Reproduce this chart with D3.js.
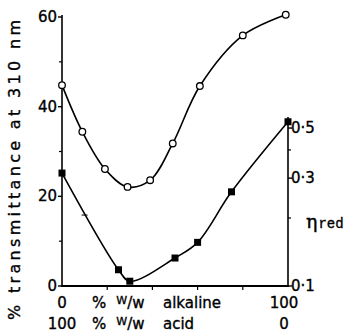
<!DOCTYPE html>
<html>
<head>
<meta charset="utf-8">
<script src="https://cdn.jsdelivr.net/npm/d3@7"></script>
<style>
  body { margin: 0; background: #fff; }
  svg text { font-family: "DejaVu Sans", sans-serif; fill: #000; stroke: #000; stroke-width: 0.35; }
</style>
</head>
<body>
<div id="chart"></div>
<script>
// % transmittance (open circles, left axis)
const transX = [0, 9, 19, 29, 39, 49, 61, 80, 99];
const transY = [44.8, 34.4, 26.1, 22.1, 23.6, 31.8, 44.6, 55.9, 60.5];
// reduced viscosity (filled squares, right log axis)
const viscX = [0, 25, 30, 50, 60, 75, 100];
const viscY = [0.316, 0.118, 0.105, 0.133, 0.156, 0.261, 0.533];
// small cross mark on the viscosity line
const crossX = [10];
const crossY = [0.206];

const leftMajor = [0, 20, 40, 60];
const leftMinor = [10, 30, 50];
const rightMajor = [0.1, 0.3, 0.5];
const rightMinor = [0.2, 0.4];
const bottomTicks = [20, 40, 60, 80];

const W = 353, H = 335;
const svg = d3.select('#chart').append('svg')
  .attr('width', W).attr('height', H);

const x = d3.scaleLinear().domain([0, 100]).range([62, 288]);
const yL = d3.scaleLinear().domain([0, 60]).range([286, 17]);
const yR = d3.scaleLog().domain([0.1, 1]).range([286, 60]);

// axes lines
svg.append('line').attr('x1', x(0)).attr('x2', x(0))
  .attr('y1', 286).attr('y2', 15).attr('stroke', '#000').attr('stroke-width', 1.6);
svg.append('line').attr('x1', x(0) - 1).attr('x2', x(100) + 1)
  .attr('y1', 286).attr('y2', 286).attr('stroke', '#000').attr('stroke-width', 2);
svg.append('line').attr('x1', x(100)).attr('x2', x(100))
  .attr('y1', 287).attr('y2', yR(0.56)).attr('stroke', '#000').attr('stroke-width', 1.6);

// left ticks
svg.selectAll('.lmaj').data(leftMajor).enter().append('line')
  .attr('x1', x(0) - 4).attr('x2', x(0)).attr('y1', d => yL(d)).attr('y2', d => yL(d))
  .attr('stroke', '#000').attr('stroke-width', 1.4);
svg.selectAll('.lmin').data(leftMinor).enter().append('line')
  .attr('x1', x(0) - 3).attr('x2', x(0)).attr('y1', d => yL(d)).attr('y2', d => yL(d))
  .attr('stroke', '#000').attr('stroke-width', 1.2);
svg.selectAll('.llab').data(leftMajor).enter().append('text')
  .attr('x', x(0) - 5).attr('y', d => yL(d) + 5)
  .attr('text-anchor', 'end').attr('font-size', 15)
  .text(d => d);

// right ticks
svg.selectAll('.rmaj').data(rightMajor).enter().append('line')
  .attr('x1', x(100)).attr('x2', x(100) + 4).attr('y1', d => yR(d)).attr('y2', d => yR(d))
  .attr('stroke', '#000').attr('stroke-width', 1.4);
svg.selectAll('.rmin').data(rightMinor).enter().append('line')
  .attr('x1', x(100)).attr('x2', x(100) + 3).attr('y1', d => yR(d)).attr('y2', d => yR(d))
  .attr('stroke', '#000').attr('stroke-width', 1.2);
svg.selectAll('.rlab').data(rightMajor).enter().append('text')
  .attr('x', x(100) + 3).attr('y', d => yR(d) + 5)
  .attr('font-size', 15)
  .text(d => String(d).replace('.', '·'));

// bottom ticks
svg.selectAll('.btick').data(bottomTicks).enter().append('line')
  .attr('x1', d => x(d)).attr('x2', d => x(d)).attr('y1', 286).attr('y2', 290)
  .attr('stroke', '#000').attr('stroke-width', 1.2);

// curves
const lineT = d3.line().x(d => x(d[0])).y(d => yL(d[1])).curve(d3.curveCatmullRom);
const lineV = d3.line().x(d => x(d[0])).y(d => yR(d[1])).curve(d3.curveCatmullRom);
const tPts = transX.map((v, i) => [v, transY[i]]);
const vPts = viscX.map((v, i) => [v, viscY[i]]);

svg.append('path').attr('d', lineT(tPts)).attr('fill', 'none')
  .attr('stroke', '#000').attr('stroke-width', 1.6);
svg.append('path').attr('d', lineV(vPts)).attr('fill', 'none')
  .attr('stroke', '#000').attr('stroke-width', 1.6);

svg.selectAll('.circ').data(tPts).enter().append('circle')
  .attr('cx', d => x(d[0])).attr('cy', d => yL(d[1])).attr('r', 3.3)
  .attr('fill', '#fff').attr('stroke', '#000').attr('stroke-width', 1.3);
svg.selectAll('.sq').data(vPts).enter().append('rect')
  .attr('x', d => x(d[0]) - 3.5).attr('y', d => yR(d[1]) - 3.5)
  .attr('width', 7).attr('height', 7).attr('fill', '#000');
crossX.forEach((cx, i) => {
  const px = x(cx), py = yR(crossY[i]);
  svg.append('line').attr('x1', px - 3).attr('x2', px + 3).attr('y1', py).attr('y2', py)
    .attr('stroke', '#000').attr('stroke-width', 1);
});

// y label
svg.append('text')
  .attr('transform', 'translate(20,170) rotate(-90)')
  .attr('text-anchor', 'middle').attr('font-size', 16)
  .attr('textLength', 300).attr('lengthAdjust', 'spacing')
  .text('% transmittance at 310 nm');

// right label
const eta = svg.append('text').attr('x', 306).attr('y', 228);
eta.append('tspan').attr('font-size', 19).attr('font-family', 'DejaVu Serif').text('η');
eta.append('tspan').attr('font-size', 14).attr('font-family', 'Liberation Mono')
  .attr('dx', 1).text('red');

// x labels
function xRow(yPos, left, mid, right) {
  svg.append('text').attr('x', x(0)).attr('y', yPos).attr('text-anchor', 'middle')
    .attr('font-size', 15).text(left);
  svg.append('text').attr('x', x(100) - 4).attr('y', yPos).attr('text-anchor', 'middle')
    .attr('font-size', 15).text(right);
  const t = svg.append('text').attr('x', 92).attr('y', yPos).attr('font-size', 15);
  t.append('tspan').text('%');
  t.append('tspan').attr('dx', 10).attr('font-size', 11).attr('dy', -4).text('W');
  t.append('tspan').attr('dy', 4).text('/w');
  t.append('tspan').attr('x', 163).text(mid);
}
xRow(308, '0', 'alkaline', '100');
xRow(329, '100', 'acid', '0');
</script>
</body>
</html>
